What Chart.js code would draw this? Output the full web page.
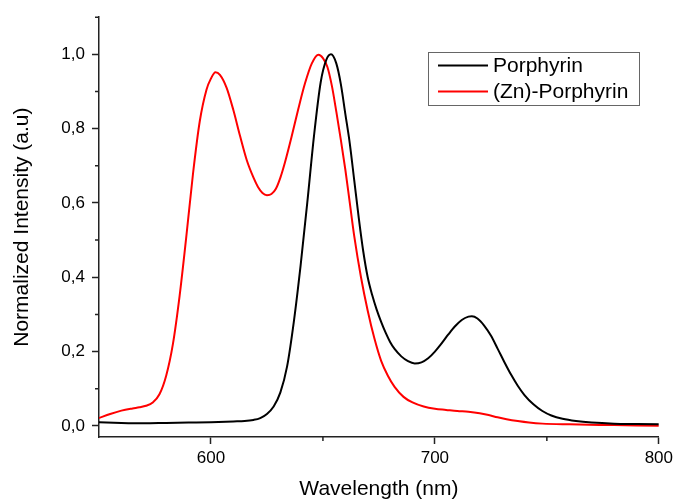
<!DOCTYPE html>
<html>
<head>
<meta charset="utf-8">
<script src="https://cdn.jsdelivr.net/npm/chart.js@4/dist/chart.umd.min.js"></script>
<style>
    body { margin: 0; background: #fff; }
    #chartContainer { width: 677px; height: 500px; }
</style>
</head>
<body>
<div id="chartContainer"><canvas id="spectraChart"></canvas></div>
<script>
// Porphyrin (black)
var porphyrinNm = [550, 560, 570, 580, 590, 600, 610, 615, 619, 622, 625, 628, 631, 634, 637, 640, 643, 646, 649, 651.5, 653.6,
    656, 658, 660, 662, 664, 666, 668, 670, 672, 674, 676, 678, 680, 682, 685, 688, 691, 694, 697, 700, 703, 706, 709, 712, 715, 716.5,
    719, 722, 725, 728, 731, 734, 737, 740, 744, 748, 752, 757, 763, 770, 780, 790, 800];
var porphyrinIntensity = [0.010, 0.008, 0.007, 0.008, 0.009, 0.010, 0.012, 0.013, 0.016, 0.021, 0.032, 0.052, 0.09, 0.16, 0.28, 0.43, 0.60, 0.78, 0.925, 0.985, 1.0,
    0.975, 0.92, 0.84, 0.76, 0.66, 0.56, 0.47, 0.40, 0.352, 0.313, 0.28, 0.251, 0.226, 0.207, 0.187, 0.174, 0.168, 0.171, 0.182, 0.20, 0.222, 0.246, 0.268, 0.285, 0.294, 0.295,
    0.289, 0.27, 0.243, 0.208, 0.172, 0.138, 0.108, 0.083, 0.058, 0.040, 0.028, 0.019, 0.013, 0.009, 0.006, 0.005, 0.004];

// (Zn)-Porphyrin (red)
var znPorphyrinNm = [550, 555, 560, 565, 568, 571, 574, 577, 580, 583, 586, 589, 592, 595, 598, 600, 602, 604, 607, 610,
    613, 616, 619, 621, 623, 625, 627, 629, 631, 633, 636, 639, 642, 645, 648, 650, 652, 654, 656, 658, 660, 662,
    664, 667, 670, 673, 676, 679, 682, 686, 690, 695, 700, 705, 710, 715, 720, 724, 728, 732, 737, 742,
    748, 760, 780, 800];
var znPorphyrinIntensity = [0.021, 0.032, 0.041, 0.047, 0.050, 0.054, 0.063, 0.085, 0.135, 0.22, 0.35, 0.51, 0.68, 0.82, 0.905, 0.935, 0.952, 0.945, 0.91, 0.85,
    0.78, 0.715, 0.668, 0.643, 0.627, 0.621, 0.624, 0.638, 0.668, 0.708, 0.778, 0.853, 0.922, 0.975, 0.999, 0.99, 0.966, 0.915, 0.845, 0.77, 0.69, 0.60,
    0.51, 0.40, 0.31, 0.235, 0.175, 0.135, 0.105, 0.078, 0.063, 0.052, 0.046, 0.043, 0.040, 0.038, 0.034, 0.029, 0.023, 0.018, 0.013, 0.009,
    0.006, 0.004, 0.002, 0.0];

var seriesLabels = ['Porphyrin', '(Zn)-Porphyrin'];
var xMajorTicks = [600, 700, 800];
var xMinorTicks = [650, 750];
var yMajorTicks = [0, 0.2, 0.4, 0.6, 0.8, 1.0];
var yMinorTicks = [0.1, 0.3, 0.5, 0.7, 0.9, 1.1];

function toPoints(xs, ys) {
    return xs.map(function(x, i) { return { x: x, y: ys[i] }; });
}

var axisColor = '#222';
var fontFamily = "'Liberation Sans', Arial, sans-serif";

// short minor ticks, Chart.js has none of its own
const minorTicksPlugin = {
    id: 'minorTicks',
    afterDraw: function(chart) {
        var ctx = chart.ctx;
        var xScale = chart.scales.x;
        var yScale = chart.scales.y;
        ctx.save();
        ctx.strokeStyle = axisColor;
        ctx.lineWidth = 1.5;
        ctx.beginPath();
        xMinorTicks.forEach(function(v) {
            var px = xScale.getPixelForValue(v);
            ctx.moveTo(px, xScale.top);
            ctx.lineTo(px, xScale.top + 4);
        });
        yMinorTicks.forEach(function(v) {
            var py = yScale.getPixelForValue(v);
            ctx.moveTo(yScale.right - 4, py);
            ctx.lineTo(yScale.right, py);
        });
        ctx.stroke();
        ctx.restore();
    }
};

// boxed legend inside the plot, like the original
const boxLegendPlugin = {
    id: 'boxLegend',
    afterDraw: function(chart) {
        var ctx = chart.ctx;
        var boxX = 428, boxY = 52, boxW = 211, boxH = 53;
        ctx.save();
        ctx.fillStyle = '#fff';
        ctx.fillRect(boxX, boxY, boxW, boxH);
        ctx.strokeStyle = '#666';
        ctx.lineWidth = 1;
        ctx.strokeRect(boxX + 0.5, boxY + 0.5, boxW, boxH);
        ctx.font = '21px ' + fontFamily;
        ctx.textBaseline = 'middle';
        ctx.fillStyle = '#000';
        chart.data.datasets.forEach(function(ds, i) {
            var rowY = 65.5 + i * 26;
            ctx.strokeStyle = ds.borderColor;
            ctx.lineWidth = 2;
            ctx.beginPath();
            ctx.moveTo(438, rowY);
            ctx.lineTo(488, rowY);
            ctx.stroke();
            ctx.fillText(ds.label, 493, rowY + 1);
        });
        ctx.restore();
    }
};

const config = {
    type: 'line',
    data: {
        datasets: [{
            label: seriesLabels[0],
            data: toPoints(porphyrinNm, porphyrinIntensity),
            borderColor: '#000000',
            borderWidth: 2,
            pointRadius: 0,
            cubicInterpolationMode: 'monotone'
        }, {
            label: seriesLabels[1],
            data: toPoints(znPorphyrinNm, znPorphyrinIntensity),
            borderColor: '#ff0000',
            borderWidth: 2,
            pointRadius: 0,
            cubicInterpolationMode: 'monotone'
        }]
    },
    options: {
        responsive: true,
        maintainAspectRatio: false,
        animation: false,
        layout: {
            padding: { top: 16, right: 14, left: 0, bottom: 0 }
        },
        plugins: {
            legend: { display: false },
            tooltip: { enabled: false }
        },
        scales: {
            x: {
                type: 'linear',
                min: 550,
                max: 800,
                afterBuildTicks: function(scale) {
                    scale.ticks = xMajorTicks.map(function(v) { return { value: v }; });
                },
                afterFit: function(scale) {
                    scale.height = 63;
                },
                grid: {
                    drawOnChartArea: false,
                    tickLength: 7,
                    tickColor: axisColor,
                    tickWidth: 1.5
                },
                border: { color: axisColor, width: 1.5 },
                ticks: {
                    color: '#000',
                    padding: 4,
                    maxRotation: 0,
                    font: { family: fontFamily, size: 17 }
                },
                title: {
                    display: true,
                    text: 'Wavelength (nm)',
                    color: '#000',
                    padding: { top: 0, bottom: -2 },
                    font: { family: fontFamily, size: 21 }
                }
            },
            y: {
                min: -0.03,
                max: 1.1,
                afterBuildTicks: function(scale) {
                    scale.ticks = yMajorTicks.map(function(v) { return { value: v }; });
                },
                afterFit: function(scale) {
                    scale.width = 99;
                },
                grid: {
                    drawOnChartArea: false,
                    tickLength: 7,
                    tickColor: axisColor,
                    tickWidth: 1.5
                },
                border: { color: axisColor, width: 1.5 },
                ticks: {
                    color: '#000',
                    padding: 7,
                    font: { family: fontFamily, size: 17 },
                    callback: function(value) {
                        return value.toFixed(1).replace('.', ',');
                    }
                },
                title: {
                    display: true,
                    text: 'Normalized Intensity (a.u)',
                    color: '#000',
                    padding: { top: 10, bottom: 0 },
                    font: { family: fontFamily, size: 21 }
                }
            }
        }
    },
    plugins: [minorTicksPlugin, boxLegendPlugin]
};

const ctx = document.getElementById('spectraChart').getContext('2d');
new Chart(ctx, config);
</script>
</body>
</html>
